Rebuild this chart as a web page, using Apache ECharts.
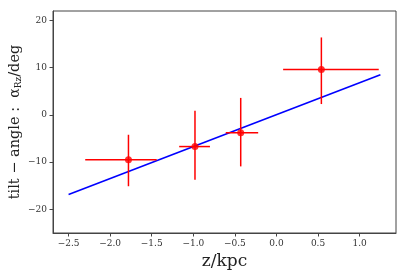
<!DOCTYPE html>
<html><head><meta charset="utf-8">
<script src="https://cdn.jsdelivr.net/npm/echarts@6/dist/echarts.min.js"></script>
<style>html,body{margin:0;padding:0;background:#fff}#c{width:407px;height:278px}</style>
</head><body><div id="c"></div>
<script>
var xTicks = [-2.5, -2.0, -1.5, -1.0, -0.5, 0.0, 0.5, 1.0];
var yTicks = [-20, -10, 0, 10, 20];
var ptX = [-1.78, -0.98, -0.43, 0.54];
var ptY = [-9.5, -6.7, -3.8, 9.6];
var xLo = [-2.30, -1.17, -0.61, 0.08];
var xHi = [-1.44, -0.80, -0.22, 1.23];
var yLo = [-15.1, -13.7, -10.9, 2.3];
var yHi = [-4.2, 0.9, 3.6, 16.4];
var fitX = [-2.5, 1.25];
var fitY = [-16.85, 8.5];

function fmt(v){ var s = Math.abs(v).toFixed(1); return (v < 0 ? '\u2212' : '') + s; }
function fmtI(v){ return (v < 0 ? '\u2212' : '') + Math.abs(v); }

var errData = ptX.map(function(x,i){ return [x, ptY[i], xLo[i], xHi[i], yLo[i], yHi[i]]; });
var ptData = ptX.map(function(x,i){ return [x, ptY[i]]; });
var fitData = fitX.map(function(x,i){ return [x, fitY[i]]; });

var tickFont = {fontFamily:'DejaVu Serif', fontSize:9, color:'#333'};
var chart = echarts.init(document.getElementById('c'));
chart.setOption({
  animation:false,
  grid:{left:53,right:11,top:11,bottom:45,show:true,borderColor:'#444',borderWidth:1,backgroundColor:'transparent',outerBoundsMode:'none',containLabel:false},
  xAxis:{type:'value',min:-2.6875,max:1.4375,
    name:'z/kpc',nameLocation:'middle',nameGap:20,nameMoveOverlap:false,
    nameTextStyle:{fontFamily:'DejaVu Serif',fontSize:17,color:'#222'},
    axisLine:{show:true,onZero:false,lineStyle:{color:'#444',width:1}},
    axisTick:{show:true,customValues:xTicks,length:3.5,lineStyle:{color:'#444'}},
    axisLabel:Object.assign({customValues:xTicks,formatter:fmt,margin:6},tickFont),
    splitLine:{show:false}},
  yAxis:{type:'value',min:-25,max:22,
    name:'{a|tilt \u2212 angle :  }{g|\u03b1}{s|Rz}{a|/deg}',nameLocation:'middle',nameGap:30,nameRotate:90,nameMoveOverlap:false,
    nameTextStyle:{fontFamily:'DejaVu Serif',fontSize:14.5,color:'#222',
      rich:{a:{fontFamily:'DejaVu Serif',fontSize:14.5,color:'#222'},
            g:{fontFamily:'DejaVu Serif',fontSize:14,color:'#222'},
            s:{fontFamily:'DejaVu Serif',fontSize:9,color:'#222',verticalAlign:'bottom',padding:[7,0,0,0]}}},
    axisLine:{show:true,onZero:false,lineStyle:{color:'#444',width:1}},
    axisTick:{show:true,customValues:yTicks,length:3.5,lineStyle:{color:'#444'}},
    axisLabel:Object.assign({customValues:yTicks,formatter:fmtI,margin:6},tickFont),
    splitLine:{show:false}},
  series:[
    {type:'line',data:fitData,symbol:'none',lineStyle:{color:'#0000ff',width:1.6},z:2},
    {type:'custom',data:errData,z:3,
      renderItem:function(params,api){
        var x=api.value(0),y=api.value(1);
        var a=api.coord([api.value(2),y]),b=api.coord([api.value(3),y]);
        var c=api.coord([x,api.value(4)]),d=api.coord([x,api.value(5)]);
        var st={stroke:'#ff0000',lineWidth:1.5};
        return {type:'group',children:[
          {type:'line',shape:{x1:a[0],y1:a[1],x2:b[0],y2:b[1]},style:st},
          {type:'line',shape:{x1:c[0],y1:c[1],x2:d[0],y2:d[1]},style:st}]};
      }},
    {type:'scatter',data:ptData,symbol:'circle',symbolSize:7,itemStyle:{color:'#ff0000'},z:4}
  ]
});
</script></body></html>
